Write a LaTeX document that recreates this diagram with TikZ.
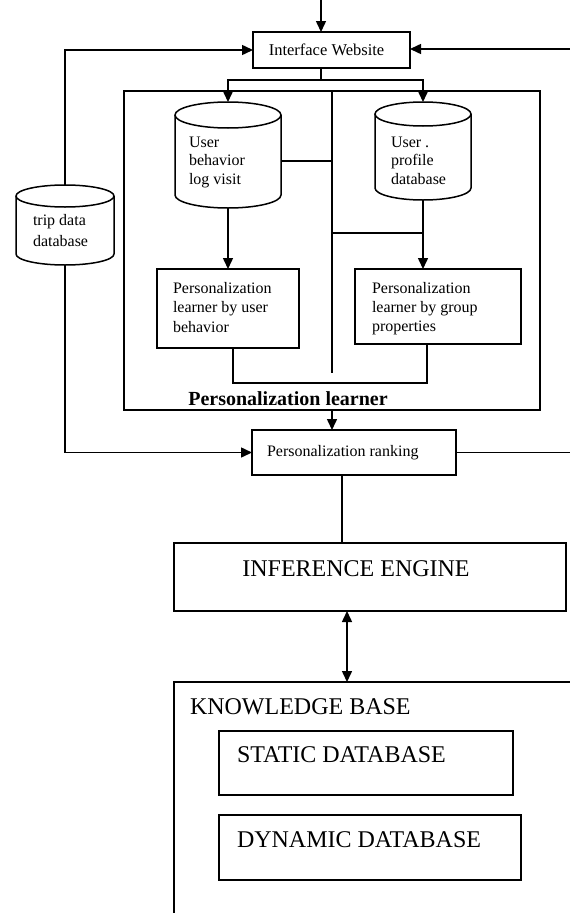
\documentclass[tikz,border=0pt]{standalone}
\usepackage{fontspec}
\setmainfont{Liberation Serif}
\usetikzlibrary{arrows.meta,calc}
\tikzset{
  ln/.style={line width=1.5pt},
  arr/.style={ln,-{Triangle[length=11pt,width=10pt]}},
  darr/.style={ln,{Triangle[length=11pt,width=10pt]}-{Triangle[length=11pt,width=10pt]}},
  box/.style={draw,ln,inner sep=0pt,outer sep=0pt},
  ghost/.style={inner sep=0pt,outer sep=0pt},
  txt/.style={inner sep=0pt,outer sep=0pt,align=left,font=\fontsize{16}{18.5}\selectfont},
  big/.style={inner sep=0pt,outer sep=0pt,font=\fontsize{24}{26}\selectfont},
}
\newcommand\drawcyl[5]{%
  \draw[ln] ({#1},{#2+#5}) ellipse [x radius=#4pt, y radius=#5pt];
  \draw[ln] ({#1-#4},{#2+#5}) -- ({#1-#4},{#3-#5}) arc[start angle=180,end angle=0,x radius=#4pt,y radius=#5pt] -- ({#1+#4},{#2+#5});
}
\begin{document}
\begin{tikzpicture}[x=1pt,y=1pt,yscale=-1]
\useasboundingbox (0,0) rectangle (570,913);
% Interface Website
\node[box,minimum width=157pt,minimum height=36pt] (iw) at (331.5,50) {};
\node[ghost,font=\fontsize{16.5}{18}\selectfont,anchor=base] (iwt) at (326.5,55) {Interface Website};
\coordinate (in) at (321,0);
\draw[arr] (in) -- (in |- iw.north);
\coordinate (rt) at (570,49);
\draw[arr] (rt) -- (rt -| iw.east);
% cylinders
\node[ghost,minimum width=106pt,minimum height=106pt] (ub) at (228,155) {};
\drawcyl{228}{102}{208}{53}{13}
\node[txt,anchor=north west] (ubt) at (189,137) {User\\behavior\\log visit};
\node[ghost,minimum width=96pt,minimum height=98pt] (up) at (423,151) {};
\drawcyl{423}{102}{200}{48}{12}
\node[txt,anchor=north west] (upt) at (391,137) {User .\\profile\\database};
\node[ghost,minimum width=98pt,minimum height=80pt] (trip) at (65,225) {};
\drawcyl{65}{185}{265}{49}{11}
\node[txt,anchor=north west,font=\fontsize{16}{21}\selectfont] (tript) at (33,214) {trip data\\database};
% split
\coordinate (sp) at (321,80);
\draw[ln] (in |- iw.south) -- (sp);
\draw[arr] (sp) -| (ub.north);
\draw[arr] (sp) -| (up.north);
% frame
\node[box,minimum width=416pt,minimum height=319pt] (fr) at (332,250.5) {};
\coordinate (mb) at (332,373);
\draw[ln] (fr.north) -- (mb);
\coordinate (ue) at ($(ub.east)+(0,6)$);
\draw[ln] (ue) -- (ue -| fr.north);
% learner boxes
\node[box,minimum width=142pt,minimum height=79pt] (lb) at (228,308.5) {};
\node[txt,anchor=north west,font=\fontsize{16}{19.5}\selectfont] (lbt) at (173,282) {Personalization\\learner by user\\behavior};
\node[box,minimum width=166pt,minimum height=75pt] (rb) at (438,306.5) {};
\node[txt,anchor=north west,font=\fontsize{16}{19}\selectfont] (rbt) at (372,282) {Personalization\\learner by group\\properties};
\draw[arr] (ub.south) -- (ub.south |- lb.north);
\coordinate (j2) at (332,233);
\draw[ln] (j2) -- (j2 -| up.south);
\draw[arr] (up.south) -- (up.south |- rb.north);
\coordinate (jl) at (233,383);
\coordinate (jr) at (427,383);
\draw[ln] (jl |- lb.south) -- (jl) -- (jr) -- (jr |- rb.south);
\node[ghost,font=\bfseries\fontsize{20}{22}\selectfont,anchor=base] (plt) at (288,405) {Personalization learner};
% ranking
\node[box,minimum width=204pt,minimum height=45pt] (rank) at (354,452.5) {};
\node[txt,anchor=base west] (rankt) at (267,456) {Personalization ranking};
\draw[arr] (fr.south) -- (fr.south |- rank.north);
\draw[arr] (trip.north) -- (trip.north |- iw.west) -- (iw.west);
\draw[arr] (trip.south) -- (trip.south |- rank.west) -- (rank.west);
\coordinate (rr) at (570,452.5);
\draw[ln] (rank.east) -- (rr);
% inference engine
\node[box,minimum width=392pt,minimum height=68pt] (ie) at (370,577) {};
\node[big,anchor=base] (iet) at (356,576) {INFERENCE ENGINE};
\coordinate (v1) at (342,500);
\draw[ln] (v1 |- rank.south) -- (v1 |- ie.north);
% knowledge base
\coordinate (kbtop) at (347,682);
\coordinate (kbc) at (174,682);
\coordinate (kbl) at (174,913);
\coordinate (kbr) at (570,682);
\draw[darr] (kbtop |- ie.south) -- (kbtop);
\draw[ln] (kbl) -- (kbc) -- (kbr);
\node[big,anchor=base west] (kbt) at (190,714) {KNOWLEDGE BASE};
\node[box,minimum width=294pt,minimum height=64pt] (sdb) at (366,763) {};
\node[big,anchor=base west] (sdbt) at (237,762) {STATIC DATABASE};
\node[box,minimum width=302pt,minimum height=65pt] (ddb) at (370,847.5) {};
\node[big,anchor=base west] (ddbt) at (237,847) {DYNAMIC DATABASE};
\end{tikzpicture}
\end{document}
